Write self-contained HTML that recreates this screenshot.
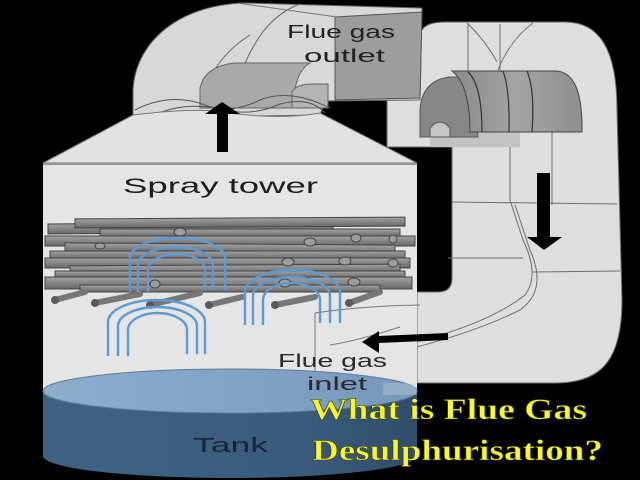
<!DOCTYPE html>
<html><head><meta charset="utf-8"><style>
html,body{margin:0;padding:0;background:#000;}
svg{display:block;}
</style></head><body>
<svg width="640" height="480" viewBox="0 0 640 480" xmlns="http://www.w3.org/2000/svg">
<defs>
<linearGradient id="tankBody" x1="0" y1="0" x2="1" y2="0">
<stop offset="0" stop-color="#3f6283"/><stop offset="0.7" stop-color="#3a5b7c"/><stop offset="1" stop-color="#2f4d6c"/>
</linearGradient>
<linearGradient id="tankTop" x1="0" y1="0" x2="1" y2="0">
<stop offset="0" stop-color="#8eaece"/><stop offset="1" stop-color="#7698bb"/>
</linearGradient>
<linearGradient id="rod" x1="0" y1="0" x2="0" y2="1">
<stop offset="0" stop-color="#a2a2a2"/><stop offset="1" stop-color="#686868"/>
</linearGradient>
<linearGradient id="hood" x1="0" y1="0" x2="1" y2="0">
<stop offset="0" stop-color="#8a8a8a"/><stop offset="0.5" stop-color="#a4a4a4"/><stop offset="1" stop-color="#8e8e8e"/>
</linearGradient>
</defs>
<rect width="640" height="480" fill="#000"/>

<!-- right duct -->
<path d="M420,35 Q422,22 445,22 L565,22 C600,22 617,50 617,110 L622,300 C622,362 600,383 555,383 L417,383 L417,292 L438,292 Q452,292 452,278 L452,147 L387,147 L387,100 L420,100 Z" fill="#dedede" stroke="#6a6a6a" stroke-width="1"/>
<g fill="none" stroke="#6e6e6e" stroke-width="1">
<line x1="468" y1="24" x2="468" y2="72"/>
<line x1="500" y1="24" x2="500" y2="72"/>
<path d="M467,23 Q485,40 497,62"/>
<path d="M533,23 Q510,40 498,70"/>
<line x1="510" y1="132" x2="510" y2="200"/>
<line x1="552" y1="132" x2="552" y2="205"/>
<line x1="452" y1="202" x2="617" y2="204"/>
<path d="M510,200 L523,240 Q540,275 525,295 Q480,330 380,350"/>
<path d="M515,205 L530,250 Q548,290 520,310 Q460,340 360,360"/>
<line x1="448" y1="258" x2="523" y2="258"/>
<line x1="533" y1="272" x2="620" y2="271"/>
<line x1="383" y1="305" x2="383" y2="387"/>
</g>
<rect x="430" y="132" width="90" height="15" fill="#c2c2c2"/>
<path d="M420,137 L420,110 Q422,80 450,77 L472,77 L478,137 Z" fill="#878787" stroke="#555" stroke-width="1"/>
<path d="M430,137 L430,128 Q440,116 450,128 L450,137 Z" fill="#c6c6c6" stroke="#555" stroke-width="1"/>
<path d="M452,71 L555,71 Q583,71 582,132 L470,132 Q470,85 452,71 Z" fill="url(#hood)" stroke="#444" stroke-width="1"/>
<g fill="none" stroke="#333" stroke-width="1.2">
<path d="M468,72 Q482,85 482,132"/>
<path d="M503,71 Q510,90 509,132"/>
<path d="M527,71 Q535,90 532,132"/>
</g>

<!-- outlet duct -->
<path d="M133,118 L133,90 C135,45 175,5 245,3 L422,8 L420,100 L325,101 L320,115 Z" fill="#d8d8d8" stroke="#666" stroke-width="1"/>
<path d="M335,17 L422,12 L420,98 L335,100 Z" fill="#9d9d9d" stroke="#555" stroke-width="1"/>
<line x1="237" y1="3" x2="337" y2="17" stroke="#777" stroke-width="1"/>
<g fill="none" stroke="#666" stroke-width="1">
<path d="M233,113 Q236,70 262,33 Q278,12 300,4"/>
<path d="M200,107 Q210,60 250,35"/>
</g>
<path d="M200,108 L200,88 Q205,66 235,63 L310,63 Q298,70 295,90 L295,108 Z" fill="#a9a9a9" stroke="#666" stroke-width="1"/>
<path d="M292,108 L292,92 Q296,84 312,84 L328,84 L328,108 Z" fill="#b3b3b3" stroke="#666" stroke-width="1"/>
<g fill="none" stroke="#555" stroke-width="1">
<path d="M135,110 Q170,92 205,105 Q230,115 260,100 Q290,88 330,108"/>
<path d="M150,117 Q180,102 215,108 Q250,118 280,104 Q310,96 325,113"/>
</g>

<!-- roof -->
<path d="M43,163 L133,115 Q200,107 230,113 Q280,120 320,113 L417,163 Z" fill="#e2e2e2" stroke="#777" stroke-width="1"/>
<rect x="43" y="163" width="374" height="230" fill="#e5e5e5"/>
<line x1="43" y1="164" x2="417" y2="164" stroke="#666" stroke-width="1.2"/>

<g fill="none" stroke="#777" stroke-width="1">
<path d="M315,313 L315,383"/>
<path d="M315,313 Q360,306 420,305"/>
<path d="M400,327 Q360,340 330,345"/>
</g>

<!-- rods -->
<g stroke="#444" stroke-width="1" fill="url(#rod)">
<rect x="48" y="223" width="285" height="10" transform="rotate(-0.4 190 227)"/>
<rect x="75" y="218" width="330" height="9" transform="rotate(-0.3 240 222)"/>
<rect x="100" y="229" width="300" height="8"/>
<rect x="45" y="236" width="370" height="10"/>
<rect x="65" y="244" width="330" height="9" transform="rotate(0.4 230 248)"/>
<rect x="50" y="251" width="355" height="8"/>
<rect x="45" y="258" width="365" height="10"/>
<rect x="70" y="265" width="330" height="8" transform="rotate(-0.3 230 269)"/>
<rect x="55" y="271" width="350" height="7"/>
<rect x="45" y="277" width="367" height="12"/>
<rect x="80" y="285" width="300" height="7"/>
</g>
<g fill="#9c9c9c" stroke="#444" stroke-width="1">
<ellipse cx="180" cy="232" rx="6" ry="4"/>
<ellipse cx="310" cy="242" rx="6" ry="4"/>
<ellipse cx="356" cy="238" rx="5" ry="4"/>
<ellipse cx="393" cy="239" rx="4" ry="4"/>
<ellipse cx="288" cy="262" rx="6" ry="4"/>
<ellipse cx="345" cy="261" rx="6" ry="4"/>
<ellipse cx="393" cy="263" rx="5" ry="4"/>
<ellipse cx="285" cy="283" rx="6" ry="4"/>
<ellipse cx="354" cy="282" rx="6" ry="4"/>
<ellipse cx="155" cy="284" rx="5" ry="4"/>
<ellipse cx="100" cy="246" rx="5" ry="3"/>
</g>
<g stroke="#777" stroke-width="6" stroke-linecap="round">
<line x1="55" y1="300" x2="85" y2="292"/>
<line x1="95" y1="303" x2="140" y2="294"/>
<line x1="150" y1="305" x2="200" y2="293"/>
<line x1="209" y1="305" x2="242" y2="297"/>
<line x1="275" y1="305" x2="315" y2="297"/>
<line x1="349" y1="303" x2="380" y2="292"/>
</g>
<g fill="#5a5a5a">
<circle cx="55" cy="300" r="4"/><circle cx="95" cy="303" r="4"/><circle cx="150" cy="305" r="4"/>
<circle cx="209" cy="305" r="4"/><circle cx="275" cy="305" r="4"/><circle cx="349" cy="303" r="4"/>
</g>

<!-- spray arcs -->
<g fill="none" stroke="#5b9bd5" stroke-width="2.4">
<path d="M130,292 L130,258 A47.5,20 0 0 1 225,258 L225,290"/>
<path d="M138,292 L138,265 A37.5,18 0 0 1 213,265 L213,290"/>
<path d="M148,292 L148,270 A28.5,16 0 0 1 205,270 L205,290"/>
<path d="M108,356 L108,322 A48.5,22 0 0 1 205,322 L205,354"/>
<path d="M118,356 L118,326 A39.5,19 0 0 1 197,326 L197,354"/>
<path d="M128,356 L128,330 A29.5,17 0 0 1 187,330 L187,354"/>
<path d="M245,325 L245,292 A47.5,22 0 0 1 340,292 L340,323"/>
<path d="M253,325 L253,296 A38.5,19 0 0 1 330,296 L330,323"/>
<path d="M263,325 L263,300 A28.5,17 0 0 1 320,300 L320,323"/>
</g>

<!-- tank -->
<path d="M43,391 L43,456 A187,22 0 0 0 417,456 L417,391 Z" fill="url(#tankBody)"/>
<ellipse cx="230" cy="391" rx="187" ry="22" fill="url(#tankTop)" stroke="#5d7d9d" stroke-width="1"/>
<rect x="383" y="383" width="34" height="12" fill="#c9d4de" opacity="0.35"/>

<!-- arrows -->
<rect x="217" y="112" width="11" height="40" fill="#000"/>
<polygon points="205,114 240,114 222,102" fill="#000"/>
<rect x="537" y="173" width="13" height="65" fill="#000"/>
<polygon points="527,237 562,237 544,250" fill="#000"/>
<polygon points="378,336 448,333 448,340 378,343" fill="#000"/>
<polygon points="362,342 379,331 379,353" fill="#000"/>

<!-- labels -->
<g font-family="'Liberation Sans', 'DejaVu Sans', sans-serif">
<text x="123" y="193" font-size="21" fill="#1e1e1e" textLength="195" lengthAdjust="spacingAndGlyphs">Spray tower</text>
<text x="287" y="38" font-size="18" fill="#222" textLength="108" lengthAdjust="spacingAndGlyphs">Flue gas</text>
<text x="304" y="62" font-size="18" fill="#222" textLength="81" lengthAdjust="spacingAndGlyphs">outlet</text>
<text x="278" y="367" font-size="18" fill="#2a2a2a" textLength="109" lengthAdjust="spacingAndGlyphs">Flue gas</text>
<text x="307" y="390" font-size="18" fill="#2a2a2a" textLength="60" lengthAdjust="spacingAndGlyphs">inlet</text>
<text x="193" y="452" font-size="20" fill="#15253a" textLength="75" lengthAdjust="spacingAndGlyphs">Tank</text>
</g>
<g font-family="'Liberation Serif', serif" font-weight="bold" font-size="30" fill="#f7f72a" stroke="#3a3a10" stroke-width="0.6">
<text x="310" y="419" textLength="277" lengthAdjust="spacingAndGlyphs">What is Flue Gas</text>
<text x="312" y="460" textLength="291" lengthAdjust="spacingAndGlyphs">Desulphurisation?</text>
</g>
</svg>
</body></html>
